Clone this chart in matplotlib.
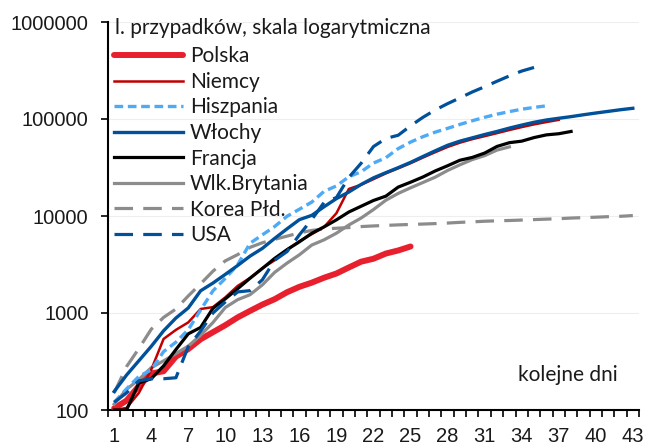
import numpy as np
import matplotlib.pyplot as plt
from matplotlib.ticker import FixedLocator, NullFormatter

# liczba przypadkow od dnia z >=100 przypadkami
polska = [104, 125, 177, 238, 251, 355, 425, 536, 634, 749, 901, 1051, 1221, 1389, 1638,
          1862, 2055, 2311, 2554, 2946, 3383, 3627, 4102, 4413, 4848]
niemcy = [100, 105, 150, 260, 540, 670, 800, 1100, 1150, 1450, 1900, 2300, 2900, 3500, 4500,
          5500, 6500, 7700, 10700, 19000, 21000, 24000, 27500, 31000, 35000, 40000, 45500,
          51500, 57000, 62000, 66500, 71500, 77000, 82500, 88000, 93000, 98000]
hiszpania = [120, 165, 222, 259, 400, 500, 673, 1073, 1695, 2277, 3146, 5232, 6391, 7798, 9942,
             11748, 13910, 17963, 20410, 25374, 28603, 35136, 39885, 49515, 57786, 65719, 73235,
             80110, 87956, 95923, 104118, 112065, 119199, 126168, 131646, 136675]
wlochy = [155, 229, 322, 453, 655, 888, 1128, 1694, 2036, 2502, 3089, 3858, 4636, 5883, 7375,
          9172, 10149, 12462, 15113, 17660, 21157, 24747, 27980, 31506, 35713, 41035, 47021,
          53578, 59138, 63927, 69176, 74386, 80589, 86498, 92472, 97689, 101739, 105792,
          110574, 115242, 119827, 124632, 128948]
francja = [100, 100, 190, 210, 285, 420, 610, 710, 1120, 1400, 1780, 2280, 2880, 3660, 4500,
           5420, 6630, 7730, 9130, 10990, 12610, 14460, 16020, 19860, 22300, 25230, 29150,
           32960, 37570, 40170, 44550, 52130, 56990, 59100, 64340, 68600, 70480, 74390]
wlk_brytania = [115, 163, 206, 273, 321, 382, 456, 590, 798, 1140, 1372, 1543, 1950, 2626, 3269,
                3983, 5018, 5683, 6650, 8077, 9529, 11658, 14543, 17089, 19522, 22141, 25150,
                29474, 33718, 38168, 41903, 47806, 51608]
korea = [150, 280, 430, 680, 900, 1100, 1500, 2000, 2700, 3450, 4000, 4750, 5300, 5750, 6200,
         6700, 7100, 7350, 7480, 7600, 7780, 7900, 8000, 8100, 8180, 8260, 8350, 8460, 8600,
         8700, 8830, 8920, 8990, 9080, 9180, 9280, 9380, 9520, 9620, 9720, 9840, 9930, 10100]
usa = [120, 150, 200, 210, 210, 215, 450, 650, 1000, 1300, 1650, 1700, 2200, 3500, 4300, 6400,
       9200, 13800, 15500, 25000, 35000, 52000, 63000, 68000, 85000, 104000, 124000, 144000,
       165000, 190000, 215000, 245000, 278000, 312000, 340000]

n_days = 43
day_labels = list(range(1, n_days + 1, 3))
y_ticks = [100, 1000, 10000, 100000, 1000000]

plt.rcParams['font.family'] = ['Lato', 'DejaVu Sans']

fig = plt.figure(figsize=(6.52, 4.46), dpi=100)
ax = fig.add_axes([108 / 652, 36 / 446, 531 / 652, 388 / 446])

def days(vals):
    return np.arange(1, len(vals) + 1)

ax.plot(days(polska), polska, color='#E8202E', lw=4.3, solid_capstyle='round', label='Polska', zorder=3)
ax.plot(days(niemcy), niemcy, color='#C00000', lw=1.8, label='Niemcy', zorder=4)
ax.plot(days(hiszpania), hiszpania, color='#4FAAF5', lw=2.4, dashes=(2.6, 1.4), label='Hiszpania', zorder=4)
ax.plot(days(wlochy), wlochy, color='#00509A', lw=2.4, label='Włochy', zorder=5)
ax.plot(days(francja), francja, color='black', lw=2.3, label='Francja', zorder=4)
ax.plot(days(wlk_brytania), wlk_brytania, color='#8C8C8C', lw=2.3, label='Wlk.Brytania', zorder=3)
ax.plot(days(korea), korea, color='#8C8C8C', lw=2.3, dashes=(5.8, 3.2), label='Korea Płd.', zorder=3)
ax.plot(days(usa), usa, color='#00509A', lw=2.3, dashes=(5.8, 3.2), label='USA', zorder=4)

ax.set_yscale('log')
ax.set_ylim(100, 1000000)
ax.set_xlim(0.5, n_days + 0.5)
ax.yaxis.set_major_locator(FixedLocator(y_ticks))
ax.yaxis.set_minor_locator(FixedLocator([]))
ax.set_yticklabels([str(v) for v in y_ticks], family='Liberation Sans')
ax.set_xticks(day_labels)
ax.set_xticklabels([str(d) for d in day_labels], family='Liberation Sans')
ax.xaxis.set_minor_locator(FixedLocator(np.arange(0.5, n_days + 1, 1)))
ax.xaxis.set_minor_formatter(NullFormatter())
ax.tick_params(axis='x', which='major', length=0, pad=12, labelsize=14.5)
ax.tick_params(axis='x', which='minor', length=5, width=1.2, direction='out')
ax.tick_params(axis='y', which='major', length=5, width=1.2, pad=9, labelsize=14.5)
ax.tick_params(axis='both', colors='black', labelcolor='#1a1a1a')

ax.grid(axis='y', which='major', color='#EEEEEE', lw=0.8)
ax.set_axisbelow(True)
for s in ['top', 'right']:
    ax.spines[s].set_visible(False)
for s in ['left', 'bottom']:
    ax.spines[s].set_linewidth(1.5)

ax.text(0.013, 0.985, 'l. przypadków, skala logarytmiczna', transform=ax.transAxes,
        fontsize=15, va='center', ha='left', color='#1a1a1a')
ax.text(0.865, 0.09, 'kolejne dni', transform=ax.transAxes, fontsize=15,
        va='center', ha='center', color='#1a1a1a')

leg = ax.legend(loc='upper left', bbox_to_anchor=(6 / 531, 0.937), frameon=False, fontsize=15,
                handlelength=3.3, handletextpad=0.34, labelspacing=0.265, borderaxespad=0,
                borderpad=0)
for t in leg.get_texts():
    t.set_color('#1a1a1a')

fig.savefig('out.png', dpi=100)
